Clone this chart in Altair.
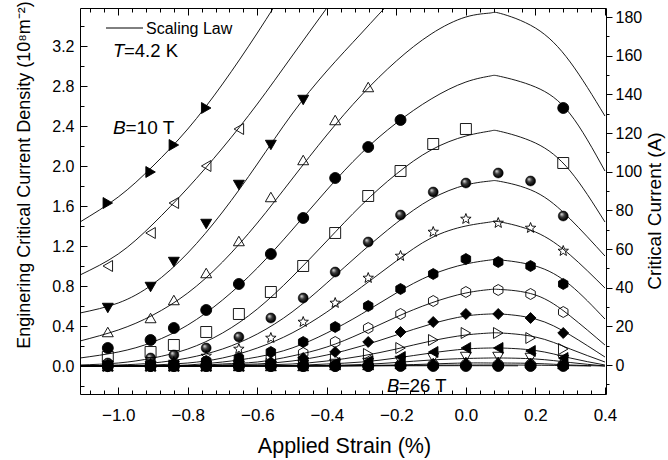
import altair as alt
import pandas as pd

FONT = "Liberation Sans"

# ---------------- scaling-law curves: Jc (1e8 A/m^2) vs applied strain (%) ----------------
fit_strain = [-1.11, -1.0, -0.9, -0.8, -0.7, -0.6, -0.5, -0.4, -0.3, -0.2, -0.1, 0.0, 0.07, 0.1, 0.2, 0.3, 0.4]

fit_b10 = [1.44, 1.69, 2.00, 2.37, 2.82, 3.33, 3.88, 4.45, None, None, None, None, None, None, None, None, None]
fit_b11 = [0.91, 1.12, 1.42, 1.78, 2.18, 2.62, 3.10, 3.58, 4.06, None, None, None, None, None, None, None, None]
fit_b12 = [0.53, 0.63, 0.82, 1.13, 1.54, 2.02, 2.52, 2.95, 3.33, 3.70, 4.02, None, None, None, None, None, None]
fit_b13 = [0.25, 0.36, 0.51, 0.73, 1.04, 1.43, 1.87, 2.31, 2.71, 3.05, 3.32, 3.49, 3.53, 3.525, 3.38, 3.04, 2.50]
fit_b14 = [0.08, 0.14, 0.24, 0.41, 0.66, 0.98, 1.36, 1.76, 2.13, 2.43, 2.67, 2.84, 2.90, 2.895, 2.79, 2.52, 1.95]
fit_b15 = [0.01, 0.03, 0.08, 0.17, 0.33, 0.57, 0.89, 1.25, 1.61, 1.92, 2.16, 2.30, 2.35, 2.345, 2.23, 1.95, 1.44]
fit_b16 = [0.00, 0.01, 0.03, 0.08, 0.17, 0.32, 0.54, 0.83, 1.14, 1.43, 1.67, 1.81, 1.85, 1.845, 1.74, 1.47, 1.10]
fit_b17 = [0.00, 0.00, 0.01, 0.03, 0.08, 0.18, 0.33, 0.54, 0.79, 1.05, 1.28, 1.40, 1.44, 1.44, 1.34, 1.11, 0.78]
fit_b18 = [0.00, 0.00, 0.00, 0.01, 0.04, 0.09, 0.18, 0.33, 0.52, 0.73, 0.91, 1.02, 1.06, 1.06, 1.00, 0.81, 0.47]
fit_b19 = [0.00, 0.00, 0.00, 0.00, 0.02, 0.04, 0.10, 0.19, 0.33, 0.49, 0.63, 0.73, 0.765, 0.765, 0.71, 0.50, 0.21]
fit_b20 = [0.00, 0.00, 0.00, 0.00, 0.01, 0.02, 0.05, 0.11, 0.20, 0.31, 0.42, 0.50, 0.52, 0.52, 0.47, 0.31, 0.09]
fit_b21 = [0.00, 0.00, 0.00, 0.00, 0.00, 0.01, 0.02, 0.05, 0.10, 0.17, 0.25, 0.31, 0.33, 0.33, 0.29, 0.17, 0.04]
fit_b22 = [0.00, 0.00, 0.00, 0.00, 0.00, 0.00, 0.005, 0.02, 0.04, 0.08, 0.13, 0.17, 0.18, 0.18, 0.155, 0.08, 0.01]
fit_b23 = [0.00, 0.00, 0.00, 0.00, 0.00, 0.00, 0.00, 0.005, 0.015, 0.035, 0.06, 0.075, 0.08, 0.08, 0.07, 0.035, 0.00]
fit_b24 = [0.00, 0.00, 0.00, 0.00, 0.00, 0.00, 0.00, 0.00, 0.005, 0.01, 0.02, 0.03, 0.03, 0.03, 0.025, 0.01, 0.00]

# the two highest-field curves span a shorter strain range
fit_strain_b25 = [-1.0, -0.6, -0.3, -0.1, 0.07, 0.2, 0.36]
fit_b25 = [0.00, 0.00, 0.003, 0.008, 0.01, 0.008, 0.00]
fit_strain_b26 = [-0.87, -0.5, -0.2, 0.0, 0.15]
fit_b26 = [0.00, 0.00, 0.002, 0.003, 0.002]

# ---------------- measured points ----------------
meas_strain = [-1.03, -0.907, -0.84, -0.747, -0.653, -0.561, -0.468, -0.376, -0.281, -0.188, -0.094, 0.0, 0.093, 0.186, 0.28]

meas_b10 = [1.63, 1.94, 2.21, 2.58, None, None, None, None, None, None, None, None, None, None, None]
meas_b11 = [1.00, 1.33, 1.63, 2.00, 2.37, None, None, None, None, None, None, None, None, None, None]
meas_b12 = [0.58, 0.79, 1.04, 1.42, 1.81, 2.21, 2.66, None, None, None, None, None, None, None, None]
meas_b13 = [0.34, 0.48, 0.66, 0.93, 1.25, 1.69, 2.06, 2.46, 2.79, None, None, None, None, None, None]
meas_b14 = [0.18, 0.26, 0.38, 0.56, 0.82, 1.12, 1.48, 1.88, 2.19, 2.46, None, None, None, None, 2.58]
meas_b15 = [0.09, 0.14, 0.21, 0.34, 0.52, 0.74, 1.00, 1.33, 1.70, 1.95, 2.22, 2.37, None, None, 2.03]
meas_b16 = [0.03, 0.08, 0.11, 0.18, 0.29, 0.48, 0.68, 0.94, 1.24, 1.51, 1.74, 1.83, 1.93, 1.85, 1.50]
meas_b17 = [0.01, 0.02, 0.04, 0.10, 0.17, 0.28, 0.44, 0.63, 0.88, 1.10, 1.34, 1.47, 1.43, 1.38, 1.15]
meas_b18 = [0.00, 0.01, 0.02, 0.05, 0.08, 0.14, 0.24, 0.39, 0.60, 0.77, 0.92, 1.07, 1.04, 1.00, 0.82]
meas_b19 = [0.00, 0.00, 0.01, 0.02, 0.04, 0.08, 0.13, 0.24, 0.38, 0.52, 0.65, 0.74, 0.76, 0.72, 0.54]
meas_b20 = [0.00, 0.00, 0.00, 0.01, 0.02, 0.04, 0.08, 0.14, 0.24, 0.34, 0.44, 0.52, 0.52, 0.48, 0.33]
meas_b21 = [0.00, 0.00, 0.00, 0.00, 0.01, 0.02, 0.04, 0.07, 0.12, 0.18, 0.26, 0.33, 0.33, 0.28, 0.17]
meas_b22 = [0.00, 0.00, 0.00, 0.00, 0.00, 0.01, 0.02, 0.03, 0.05, 0.09, 0.14, 0.18, 0.18, 0.15, 0.08]
meas_b23 = [0.00, 0.00, 0.00, 0.00, 0.00, 0.00, 0.01, 0.02, 0.03, 0.05, 0.08, 0.09, 0.09, 0.08, 0.06]
meas_b24 = [0.00, 0.00, 0.00, 0.00, 0.00, 0.00, 0.00, 0.01, 0.01, 0.02, 0.03, 0.04, 0.04, 0.03, 0.02]
meas_b25 = [0.00, 0.00, 0.00, 0.00, 0.00, 0.00, 0.00, 0.00, 0.00, 0.01, 0.01, 0.01, 0.01, 0.01, 0.01]
meas_b26 = [0.00, 0.00, 0.00, 0.00, 0.00, 0.00, 0.00, 0.00, 0.00, 0.00, 0.00, 0.00, 0.00, 0.00, 0.00]

fields = [10, 11, 12, 13, 14, 15, 16, 17, 18, 19, 20, 21, 22, 23, 24, 25, 26]
fit_values = [fit_b10, fit_b11, fit_b12, fit_b13, fit_b14, fit_b15, fit_b16, fit_b17,
              fit_b18, fit_b19, fit_b20, fit_b21, fit_b22, fit_b23, fit_b24, fit_b25, fit_b26]
fit_grids = {25: fit_strain_b25, 26: fit_strain_b26}
meas_values = [meas_b10, meas_b11, meas_b12, meas_b13, meas_b14, meas_b15, meas_b16, meas_b17,
               meas_b18, meas_b19, meas_b20, meas_b21, meas_b22, meas_b23, meas_b24, meas_b25, meas_b26]

# marker style per field
STAR = ("M0,-1L0.247,-0.34L0.951,-0.309L0.399,0.13L0.588,0.809L0,0.42L-0.588,0.809"
        "L-0.399,0.13L-0.951,-0.309L-0.247,-0.34Z")
HEX = "M0,-1L0.866,-0.5L0.866,0.5L0,1L-0.866,0.5L-0.866,-0.5Z"
marker_shape = ["triangle-right", "triangle-left", "triangle-down", "triangle-up", "circle", "square",
                "circle", STAR, HEX, HEX, "diamond", "triangle-right", "triangle-left",
                "triangle-down", "triangle-up", "circle", "circle"]
marker_fill = ["black", "transparent", "black", "transparent", "black", "transparent",
               "black", "transparent", "black", "transparent", "black", "transparent", "black",
               "transparent", "black", "transparent", "black"]
marker_size = [120, 120, 120, 120, 95, 70, 100, 150, 110, 110, 110, 120, 120, 120, 100, 60, 45]

fit_rows = []
for b, vals in zip(fields, fit_values):
    grid = fit_grids.get(b, fit_strain)
    for s, v in zip(grid, vals):
        if v is not None:
            fit_rows.append({"field": str(b), "strain": s, "jc": v})
fit_df = pd.DataFrame(fit_rows)

pt_rows = []
for b, vals in zip(fields, meas_values):
    for s, v in zip(meas_strain, vals):
        if v is not None:
            pt_rows.append({"field": str(b), "strain": s, "jc": v})
pt_df = pd.DataFrame(pt_rows)
sphere_df = pt_df[pt_df["field"] == "16"]
plain_df = pt_df[pt_df["field"] != "16"]

field_names = [str(b) for b in fields]
plain_idx = [i for i, b in enumerate(fields) if b != 16]

# ---------------- scales ----------------
x_scale = alt.Scale(domain=[-1.11, 0.403], nice=False, zero=False)
jc_scale = alt.Scale(domain=[-0.28, 3.58], nice=False, zero=False)
amp_scale = alt.Scale(domain=[-15.0, 184.66], nice=False, zero=False)

x_major = [-1.0, -0.8, -0.6, -0.4, -0.2, 0.0, 0.2, 0.4]
x_minor = [round(-1.08 + 0.04 * i, 2) for i in range(38)]
jc_major = [0.0, 0.4, 0.8, 1.2, 1.6, 2.0, 2.4, 2.8, 3.2]
jc_minor = [round(-0.2 + 0.4 * i, 1) for i in range(10)]
amp_major = [0, 20, 40, 60, 80, 100, 120, 140, 160, 180]
amp_minor = [-10 + 20 * i for i in range(10)]

dummy = pd.DataFrame({"strain": [0.0], "jc": [0.0], "amp": [0.0]})

tick_style = dict(domain=False, grid=False, tickColor="black", tickWidth=1,
                  labelFont=FONT, labelColor="black", titleFont=FONT, titleColor="black",
                  titleFontWeight="normal")


def axis_layer(x_axis=None, y_axis=None, y_field="jc", y_scale=jc_scale):
    return alt.Chart(dummy).mark_point(opacity=0).encode(
        x=alt.X("strain:Q", scale=x_scale, axis=x_axis),
        y=alt.Y(f"{y_field}:Q", scale=y_scale, axis=y_axis),
    )


bottom_major = axis_layer(x_axis=alt.Axis(
    orient="bottom", values=x_major, format=".1f", offset=-7, tickSize=7,
    labelFontSize=17, labelBaseline="alphabetic", labelPadding=26, labelFlush=False,
    title="Applied Strain (%)", titleFontSize=21.5, titleX=264, titleY=65,
    titleBaseline="alphabetic", titleAlign="center", **tick_style))
bottom_minor = axis_layer(x_axis=alt.Axis(
    orient="bottom", values=x_minor, offset=-4, tickSize=4, labels=False, title=None, **tick_style))
top_major = axis_layer(x_axis=alt.Axis(
    orient="top", values=x_major, offset=-7, tickSize=7, labels=False, title=None, **tick_style))
top_minor = axis_layer(x_axis=alt.Axis(
    orient="top", values=x_minor, offset=-4, tickSize=4, labels=False, title=None, **tick_style))
left_major = axis_layer(y_axis=alt.Axis(
    orient="left", values=jc_major, format=".1f", offset=-7, tickSize=7,
    labelFontSize=16, labelPadding=6, labelFlush=False, labelBaseline="middle",
    title=None, **tick_style))
left_minor = axis_layer(y_axis=alt.Axis(
    orient="left", values=jc_minor, offset=-4, tickSize=4, labels=False, title=None, **tick_style))
right_major = axis_layer(y_field="amp", y_scale=amp_scale, y_axis=alt.Axis(
    orient="right", values=amp_major, format="d", tickSize=6,
    labelFontSize=16, labelPadding=3, labelFlush=False, labelBaseline="middle",
    title=None, **tick_style))
right_minor = axis_layer(y_field="amp", y_scale=amp_scale, y_axis=alt.Axis(
    orient="right", values=amp_minor, tickSize=3, labels=False, title=None, **tick_style))

# ---------------- data layers ----------------
fits = alt.Chart(fit_df).mark_line(color="black", strokeWidth=0.9, clip=True,
                                   interpolate="natural").encode(
    x=alt.X("strain:Q", scale=x_scale, axis=None),
    y=alt.Y("jc:Q", scale=jc_scale, axis=None),
    detail="field:N",
)

points = alt.Chart(plain_df).mark_point(filled=True, stroke="black", strokeWidth=0.9,
                                        opacity=1, clip=True).encode(
    x=alt.X("strain:Q", scale=x_scale, axis=None),
    y=alt.Y("jc:Q", scale=jc_scale, axis=None),
    shape=alt.Shape("field:N", legend=None, scale=alt.Scale(
        domain=[field_names[i] for i in plain_idx], range=[marker_shape[i] for i in plain_idx])),
    fill=alt.Fill("field:N", legend=None, scale=alt.Scale(
        domain=[field_names[i] for i in plain_idx], range=[marker_fill[i] for i in plain_idx])),
    size=alt.Size("field:N", legend=None, scale=alt.Scale(
        domain=[field_names[i] for i in plain_idx], range=[marker_size[i] for i in plain_idx])),
)

# shaded ball marker: dark sphere with a highlight towards the upper left
ball = alt.RadialGradient(
    gradient="radial",
    stops=[alt.GradientStop(color="#e4e4e4", offset=0),
           alt.GradientStop(color="#3a3a3a", offset=0.4),
           alt.GradientStop(color="#000000", offset=0.8)],
    x1=0.32, y1=0.3, r1=0, x2=0.5, y2=0.5, r2=0.6)
spheres = alt.Chart(sphere_df).mark_point(shape="circle", size=100, filled=True, fill=ball,
                                          stroke="black", strokeWidth=0.5, opacity=1,
                                          clip=True).encode(
    x=alt.X("strain:Q", scale=x_scale, axis=None),
    y=alt.Y("jc:Q", scale=jc_scale, axis=None),
)

# ---------------- annotations ----------------
def label(text, x, y, size, italic=False, align="left", angle=0, baseline="alphabetic"):
    return alt.Chart(dummy).mark_text(
        text=text, font=FONT, fontSize=size, fontStyle="italic" if italic else "normal",
        align=align, baseline=baseline, angle=angle, color="black").encode(
        x=alt.value(x), y=alt.value(y))


legend_line = alt.Chart(dummy).mark_rule(color="black", strokeWidth=1).encode(
    x=alt.value(26), x2=alt.value(63), y=alt.value(20))
annotations = [
    legend_line,
    label("Scaling Law", 66, 26, 16),
    label("T", 33, 49, 18.5, italic=True),
    label("=4.2 K", 44, 49, 18.5),
    label("B", 33, 126, 19, italic=True),
    label("=10 T", 45.5, 126, 19),
    label("B", 307, 384, 18.5, italic=True),
    label("=26 T", 319, 384, 18.5),
    # axis titles for the two vertical axes
    label("Enginering Critical Current Density (10⁸m⁻²)", -55, 167, 18, align="center",
          angle=270, baseline="middle"),
    label("Critical Current (A)", 575, 203, 19, align="center", angle=270, baseline="middle"),
]

chart = alt.layer(
    bottom_major, bottom_minor, top_major, top_minor,
    left_major, left_minor, right_major, right_minor,
    fits, spheres, points, *annotations,
).resolve_scale(
    x="independent", y="independent", shape="independent", fill="independent", size="independent"
).resolve_axis(
    x="independent", y="independent"
).properties(
    width=526, height=386,
    autosize=alt.AutoSizeParams(type="none"),
    padding={"left": 80, "top": 8, "right": 62, "bottom": 66},
    background="white",
).configure_view(stroke="black", strokeWidth=1)

chart.save("out.html", embed_options={"renderer": "svg", "actions": False})
